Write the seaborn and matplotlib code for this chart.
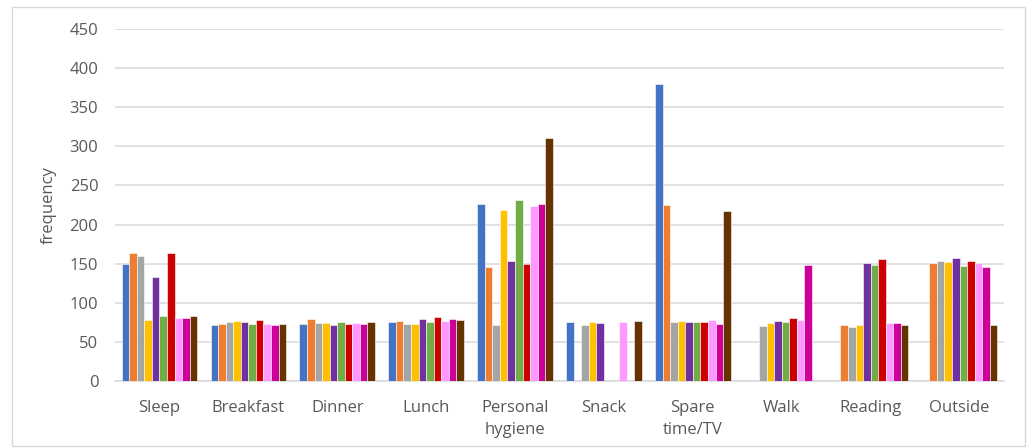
import numpy as np
import pandas as pd
import seaborn as sns
import matplotlib
matplotlib.use("Agg")
import matplotlib.pyplot as plt
from matplotlib.patches import Rectangle

categories = ["Sleep", "Breakfast", "Dinner", "Lunch", "Personal\nhygiene",
              "Snack", "Spare\ntime/TV", "Walk", "Reading", "Outside"]
series_names = ["S1", "S2", "S3", "S4", "S5", "S6", "S7", "S8", "S9", "S10"]
nan = np.nan
# values per series, in category order
s1 = [150, 71, 73, 76, 226, 75, 380, nan, nan, nan]
s2 = [163, 73, 79, 77, 146, nan, 225, nan, 72, 151]
s3 = [160, 76, 74, 73, 72, 72, 76, 70, 69, 153]
s4 = [78, 77, 74, 73, 218, 76, 77, 74, 72, 152]
s5 = [133, 76, 71, 79, 153, 74, 75, 77, 151, 157]
s6 = [83, 73, 76, 76, 232, nan, 76, 75, 148, 147]
s7 = [163, 78, 73, 82, 149, nan, 76, 80, 156, 153]
s8 = [80, 73, 74, 77, 224, 76, 78, 78, 74, 151]
s9 = [80, 72, 73, 79, 226, nan, 73, 148, 74, 146]
s10 = [83, 73, 76, 78, 311, 77, 217, nan, 72, 72]
all_series = [s1, s2, s3, s4, s5, s6, s7, s8, s9, s10]

colors = ["#4472C4", "#ED7D31", "#A5A5A5", "#FFC000", "#7030A0",
          "#70AD47", "#CC0000", "#FF99FF", "#CC0099", "#663300"]

rows = []
for name, vals in zip(series_names, all_series):
    for c, v in zip(categories, vals):
        rows.append({"category": c, "series": name, "value": v})
df = pd.DataFrame(rows)

sns.set_theme(style="white")
plt.rcParams["font.family"] = ["Open Sans", "DejaVu Sans"]

fig = plt.figure(figsize=(10.33, 4.48), dpi=100)
ax = fig.add_axes([115/1033, 1-381/448, (1004-115)/1033, (381-29)/448])

sns.barplot(data=df, x="category", y="value", hue="series",
            order=categories, hue_order=series_names, palette=colors,
            width=0.85, dodge=True, saturation=1, legend=False,
            edgecolor="white", linewidth=0.4, errorbar=None, ax=ax, zorder=3)

ax.set_ylim(0, 450)
ax.set_xlim(-0.5, len(categories) - 0.5)
ax.set_yticks(range(0, 451, 50))
ax.yaxis.grid(True, color="#D9D9D9", linewidth=1.1, zorder=0)
ax.set_axisbelow(True)
for s in ["top", "right", "left"]:
    ax.spines[s].set_visible(False)
ax.spines["bottom"].set_color("#D9D9D9")
ax.spines["bottom"].set_linewidth(1.1)
ax.tick_params(axis="y", length=0, pad=12, labelsize=12, labelcolor="#595959")
ax.tick_params(axis="x", length=0, pad=14, labelsize=12, labelcolor="#595959")
for t in ax.get_xticklabels():
    t.set_linespacing(1.45)
ax.set_xlabel("")
ax.set_ylabel("frequency", fontsize=12, color="#595959", labelpad=9)

fig.patches.append(Rectangle((12/1033, 1-446/448), (1025-12)/1033, (446-7)/448,
                             transform=fig.transFigure, fill=False,
                             edgecolor="#D9D9D9", linewidth=1))

fig.savefig("out.png", dpi=100, facecolor="white")
